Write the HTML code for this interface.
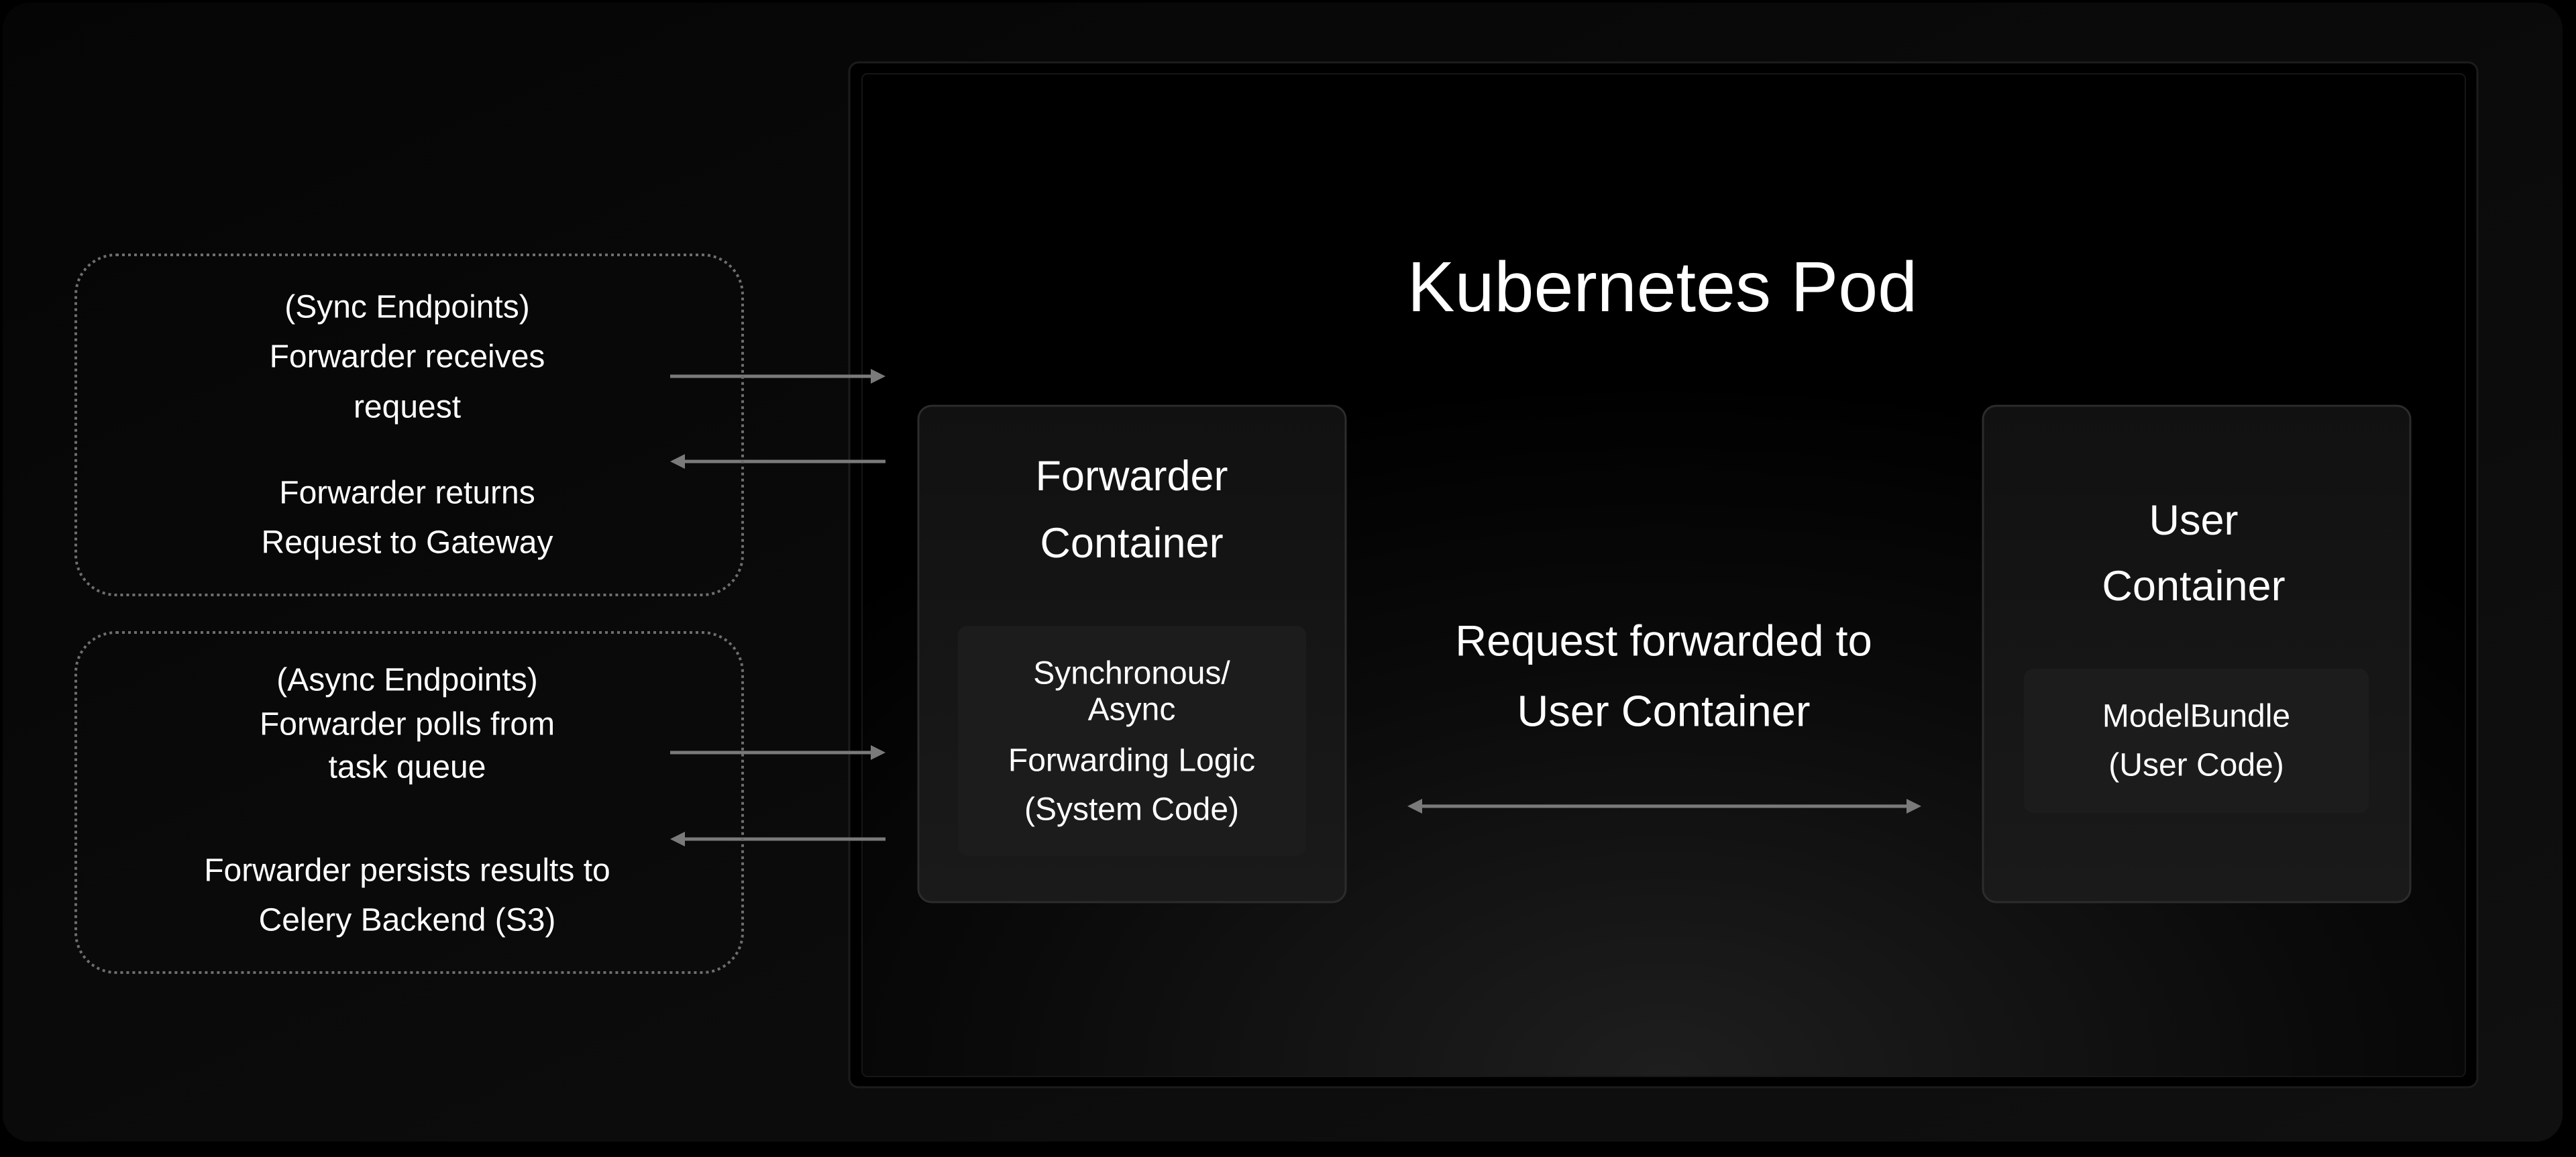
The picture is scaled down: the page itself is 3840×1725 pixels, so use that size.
<!DOCTYPE html>
<html><head><meta charset="utf-8"><style>
html,body{margin:0;padding:0;background:#000;}
svg{display:block;}
text{font-family:"Liberation Sans",sans-serif;fill:#fff;text-anchor:middle;dominant-baseline:central;}
</style></head><body>
<svg width="3840" height="1725" viewBox="0 0 3840 1725" xmlns="http://www.w3.org/2000/svg">
<defs>
<radialGradient id="podg" cx="0.5" cy="1.0" r="0.7">
<stop offset="0" stop-color="#1e1e1e"/><stop offset="0.6" stop-color="#0a0a0a"/><stop offset="1" stop-color="#000"/>
</radialGradient>
<linearGradient id="boxg" x1="0" y1="0" x2="0" y2="1">
<stop offset="0" stop-color="#111"/><stop offset="1" stop-color="#1a1a1a"/>
</linearGradient>
<linearGradient id="bgg" x1="0" y1="0" x2="1" y2="1">
<stop offset="0" stop-color="#050505"/><stop offset="1" stop-color="#101010"/>
</linearGradient>
</defs>
<rect x="0" y="0" width="3840" height="1725" fill="#000"/>
<rect x="4" y="4" width="3816" height="1698" rx="40" fill="url(#bgg)"/>
<!-- pod -->
<rect x="1266" y="93" width="2427" height="1528" rx="14" fill="#000" stroke="#1c1c1c" stroke-width="3"/>
<rect x="1285" y="110" width="2390" height="1495" rx="8" fill="url(#podg)" stroke="#161616" stroke-width="2"/>
<text x="2478" y="428" font-size="106">Kubernetes Pod</text>
<!-- forwarder container -->
<rect x="1369" y="605" width="637" height="740" rx="20" fill="url(#boxg)" stroke="#2c2c2c" stroke-width="3"/>
<text x="1687" y="710" font-size="63">Forwarder</text>
<text x="1687" y="810" font-size="63">Container</text>
<rect x="1428" y="933" width="519" height="343" rx="14" fill="#1c1c1c"/>
<text x="1687" y="1004" font-size="48">Synchronous/</text>
<text x="1687" y="1058" font-size="48">Async</text>
<text x="1687" y="1134" font-size="48">Forwarding Logic</text>
<text x="1687" y="1207" font-size="48">(System Code)</text>
<!-- user container -->
<rect x="2956" y="605" width="637" height="740" rx="20" fill="url(#boxg)" stroke="#2c2c2c" stroke-width="3"/>
<text x="3270" y="776" font-size="63">User</text>
<text x="3270" y="874" font-size="63">Container</text>
<rect x="3017" y="997" width="514" height="215" rx="14" fill="#1c1c1c"/>
<text x="3274" y="1068" font-size="48">ModelBundle</text>
<text x="3274" y="1141" font-size="48">(User Code)</text>
<!-- middle -->
<text x="2480" y="955" font-size="65">Request forwarded to</text>
<text x="2480" y="1060" font-size="65">User Container</text>
<g stroke="#7a7a7a" stroke-width="5" fill="#7a7a7a">
<line x1="2112" y1="1202" x2="2850" y2="1202"/>
<polygon points="2098,1202 2120,1191 2120,1213" stroke="none"/>
<polygon points="2864,1202 2842,1191 2842,1213" stroke="none"/>
<line x1="999" y1="561" x2="1305" y2="561"/>
<polygon points="1320,561 1298,550 1298,572" stroke="none"/>
<line x1="1320" y1="688" x2="1014" y2="688"/>
<polygon points="999,688 1021,677 1021,699" stroke="none"/>
<line x1="999" y1="1122" x2="1305" y2="1122"/>
<polygon points="1320,1122 1298,1111 1298,1133" stroke="none"/>
<line x1="1320" y1="1251" x2="1014" y2="1251"/>
<polygon points="999,1251 1021,1240 1021,1262" stroke="none"/>
</g>
<!-- dotted boxes -->
<rect x="113" y="380" width="994" height="507" rx="60" fill="none" stroke="#6e6e6e" stroke-width="4" stroke-dasharray="4 5"/>
<rect x="113" y="943" width="994" height="507" rx="60" fill="none" stroke="#6e6e6e" stroke-width="4" stroke-dasharray="4 5"/>
<text x="607" y="458" font-size="48">(Sync Endpoints)</text>
<text x="607" y="532" font-size="48">Forwarder receives</text>
<text x="607" y="607" font-size="48">request</text>
<text x="607" y="735" font-size="48">Forwarder returns</text>
<text x="607" y="809" font-size="48">Request to Gateway</text>
<text x="607" y="1014" font-size="48">(Async Endpoints)</text>
<text x="607" y="1080" font-size="48">Forwarder polls from</text>
<text x="607" y="1144" font-size="48">task queue</text>
<text x="607" y="1298" font-size="48">Forwarder persists results to</text>
<text x="607" y="1372" font-size="48">Celery Backend (S3)</text>
</svg>
</body></html>
